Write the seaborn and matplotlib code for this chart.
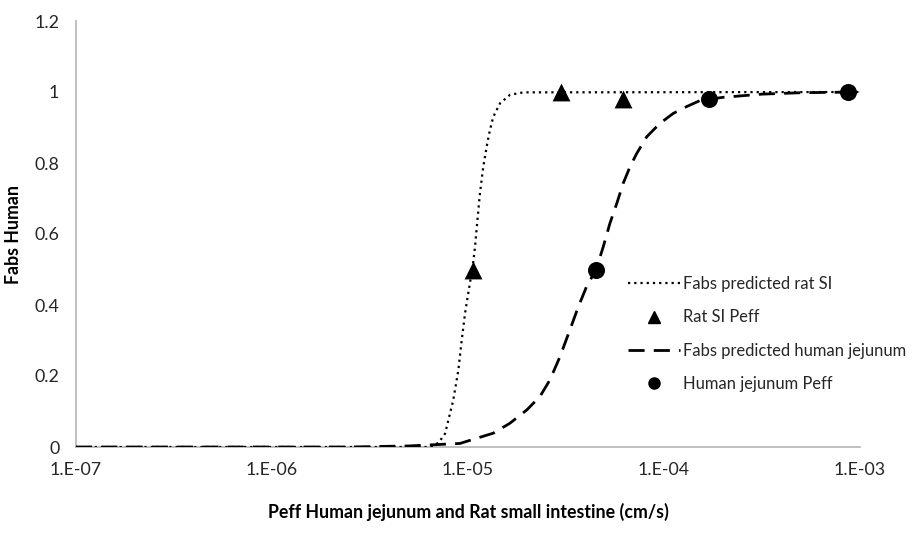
import matplotlib
matplotlib.use("Agg")
import matplotlib.pyplot as plt
from matplotlib.lines import Line2D
import seaborn as sns
import pandas as pd

# ---- data ----
rat_curve_peff = [1e-7, 6.40e-6, 7.08e-6, 7.64e-6, 8.41e-6, 8.93e-6, 9.29e-6, 9.66e-6,
                  1.016e-5, 1.057e-5, 1.086e-5, 1.117e-5, 1.151e-5, 1.197e-5, 1.245e-5,
                  1.294e-5, 1.346e-5, 1.456e-5, 1.637e-5, 1.914e-5, 1e-3]
rat_curve_fabs = [0.0, 0.0, 0.012, 0.038, 0.132, 0.217, 0.301, 0.377,
                  0.452, 0.508, 0.564, 0.639, 0.715, 0.790, 0.846,
                  0.893, 0.930, 0.968, 0.992, 0.999, 1.0]

human_curve_peff = [1e-7, 2.51e-6, 5.01e-6, 9.10e-6, 1.346e-5, 1.637e-5, 1.991e-5, 2.328e-5,
                    2.618e-5, 2.944e-5, 3.311e-5, 3.656e-5, 4.027e-5, 4.498e-5, 4.898e-5,
                    5.297e-5, 5.741e-5, 6.194e-5, 6.714e-5, 7.261e-5, 8.166e-5, 9.550e-5,
                    1.117e-4, 1.306e-4, 1.528e-4, 2.0e-4, 3.16e-4, 5.0e-4, 1e-3]
human_curve_fabs = [0.0, 0.0, 0.003, 0.010, 0.039, 0.067, 0.104, 0.142,
                    0.189, 0.254, 0.330, 0.395, 0.452, 0.499, 0.564,
                    0.630, 0.686, 0.743, 0.790, 0.827, 0.874, 0.912,
                    0.940, 0.959, 0.976, 0.985, 0.994, 0.998, 1.0]

rat_pts_peff = [1.06e-5, 2.99e-5, 6.19e-5]
rat_pts_fabs = [0.50, 1.00, 0.98]
human_pts_peff = [4.50e-5, 1.70e-4, 8.70e-4]
human_pts_fabs = [0.50, 0.98, 1.00]

x_ticks = [1e-7, 1e-6, 1e-5, 1e-4, 1e-3]
x_tick_labels = ["1.E-07", "1.E-06", "1.E-05", "1.E-04", "1.E-03"]
y_ticks = [0, 0.2, 0.4, 0.6, 0.8, 1, 1.2]
y_tick_labels = ["0", "0.2", "0.4", "0.6", "0.8", "1", "1.2"]

series_names = ["Fabs predicted rat SI", "Rat SI Peff",
                "Fabs predicted human jejunum", "Human jejunum Peff"]

# ---- styling ----
sns.set_theme(style="white")
plt.rcParams["font.family"] = ["Lato", "DejaVu Sans"]
text_col = "#262626"
fs = 12.8
leg_fs = 11.9

fig = plt.figure(figsize=(9.2, 5.36), dpi=100)
ax = fig.add_axes([76 / 920, 1 - 447 / 536, (860 - 76) / 920, (447 - 21) / 536])

rat_df = pd.DataFrame({"peff": rat_curve_peff, "fabs": rat_curve_fabs})
hum_df = pd.DataFrame({"peff": human_curve_peff, "fabs": human_curve_fabs})

dotted = (0, (1.0, 1.8))
dashed = (0, (5.8, 3.3))

sns.lineplot(data=rat_df, x="peff", y="fabs", ax=ax, color="black",
             linewidth=1.6, linestyle=dotted, sort=False, estimator=None, zorder=3)
sns.lineplot(data=hum_df, x="peff", y="fabs", ax=ax, color="black",
             linewidth=2.0, linestyle=dashed, sort=False, estimator=None, zorder=3)
sns.scatterplot(x=rat_pts_peff, y=rat_pts_fabs, ax=ax, marker="^", s=165,
                color="black", edgecolor="black", linewidth=0, zorder=4)
sns.scatterplot(x=human_pts_peff, y=human_pts_fabs, ax=ax, marker="o", s=150,
                color="black", edgecolor="black", linewidth=0, zorder=4)

ax.set_xscale("log")
ax.set_xlim(1e-7, 1e-3)
ax.set_ylim(0, 1.2)
ax.set_xticks(x_ticks)
ax.set_xticklabels(x_tick_labels)
ax.set_yticks(y_ticks)
ax.set_yticklabels(y_tick_labels)
ax.minorticks_off()
ax.tick_params(axis="both", length=0, labelsize=fs, colors=text_col)
ax.tick_params(axis="x", pad=11)
ax.tick_params(axis="y", pad=12)

for side in ["top", "right"]:
    ax.spines[side].set_visible(False)
for side in ["left", "bottom"]:
    ax.spines[side].set_color("#b4b4b4")
    ax.spines[side].set_linewidth(1.2)

ax.set_xlabel("Peff Human jejunum and Rat small intestine (cm/s)",
              fontsize=fs, fontweight="bold", color="black", labelpad=18)
ax.set_ylabel("Fabs Human", fontsize=fs, fontweight="bold", color="black",
              labelpad=9)

handles = [
    Line2D([], [], color="black", linewidth=1.6, linestyle=dotted),
    Line2D([], [], color="black", linestyle="none", marker="^", markersize=8),
    Line2D([], [], color="black", linewidth=2.0, linestyle=dashed),
    Line2D([], [], color="black", linestyle="none", marker="o", markersize=8),
]
leg = ax.legend(handles, series_names, loc="upper left",
                bbox_to_anchor=(628 / 920, 1 - 276 / 536),
                bbox_transform=fig.transFigure, frameon=False,
                fontsize=leg_fs, handlelength=3.15, handletextpad=0.15,
                labelspacing=1.05, borderpad=0, borderaxespad=0)
for t in leg.get_texts():
    t.set_color(text_col)

fig.savefig("out.png", dpi=100, facecolor="white")
